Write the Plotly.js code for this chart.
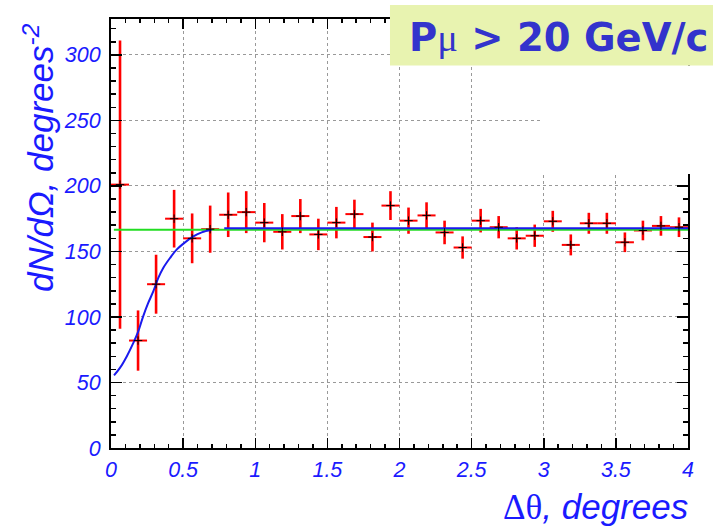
<!DOCTYPE html>
<html>
<head>
<meta charset="utf-8">
<script src="https://cdn.plot.ly/plotly-3.0.1.min.js"></script>
<style>html,body{margin:0;padding:0;background:#fff;}#chart{width:713px;height:528px;}</style>
</head>
<body>
<div id="chart"></div>
<script>
// Bin centres (degrees) and measured dN/dOmega with errors
const binCenters = [0.0625,0.1875,0.3125,0.4375,0.5625,0.6875,0.8125,0.9375,1.0625,1.1875,1.3125,1.4375,1.5625,1.6875,1.8125,1.9375,2.0625,2.1875,2.3125,2.4375,2.5625,2.6875,2.8125,2.9375,3.0625,3.1875,3.3125,3.4375,3.5625,3.6875,3.8125,3.9375];
const dNdOmega = [201,82,125,175,160,167,178,180,172,165,177,163,172,178.5,161,185,173.5,177.5,164.5,153,173.5,168.5,160,162,173,155,171.5,171.5,157,166,169.5,168.5];
const dNdOmegaErr = [110,23,22.5,22,19,18,17,16,15,13.5,13,12,12,11,11,11,10,10,9,8.5,9,8.5,8.5,8.5,8,8,8,8,7.5,7.5,7.5,7.5];
const binHalfWidth = 0.0625;

// Fitted resolution curve (blue)
const fitX = [0.021,0.062,0.109,0.155,0.189,0.223,0.258,0.293,0.328,0.362,0.409,0.455,0.513,0.571,0.629,0.697];
const fitY = [55.4,61.1,69.9,80.2,89.0,100.5,110.7,119.5,129.8,137.4,145.0,151.4,156.9,161.5,164.6,166.6];
const plateauX = [0.785,4.0];
const plateauY = [167.7,167.7];
// Flat fit (green)
const flatX = [0.02,4.0];
const flatY = [166.5,166.5];

const blue = '#1a1aff';
const traces = [
  {x: binCenters, y: dNdOmega, type:'scatter', mode:'markers',
   marker:{size:1, color:'rgba(0,0,0,0)'},
   error_y:{type:'data', array:dNdOmegaErr, visible:true, color:'#ff0000', thickness:2.6, width:0},
   error_x:{type:'constant', value:binHalfWidth, visible:true, color:'#ff0000', thickness:2, width:0},
   hoverinfo:'skip', showlegend:false},
  {x: flatX, y: flatY, type:'scatter', mode:'lines', line:{color:'#22dd22', width:2}, showlegend:false},
  {x: fitX, y: fitY, type:'scatter', mode:'lines', line:{color:'#1a1aee', width:2, shape:'spline'}, showlegend:false},
  {x: plateauX, y: plateauY, type:'scatter', mode:'lines', line:{color:'#1a1aee', width:2}, showlegend:false},
  {x: binCenters, y: dNdOmega, type:'scatter', mode:'markers',
   marker:{symbol:'cross-thin', size:6, line:{color:'#000', width:1}}, showlegend:false}
];

const helv = 'Liberation Sans, Arial, Helvetica, sans-serif';
const tickFont = {family:helv, size:21.5, color:blue, style:'italic'};
const axisCommon = {
  showline:true, linecolor:'#000', linewidth:2, mirror:'allticks',
  ticks:'inside', tickcolor:'#000', tickwidth:1.5,
  showgrid:true, gridcolor:'#999', griddash:'dot', gridwidth:1,
  zeroline:false, tickfont:tickFont
};

const layout = {
  width:713, height:528,
  margin:{l:111, r:25, t:19, b:80, pad:0},
  paper_bgcolor:'#fff', plot_bgcolor:'#fff',
  showlegend:false,
  xaxis: Object.assign({}, axisCommon, {
    range:[0,4], dtick:0.5, tick0:0, ticklen:10,
    minor:{ticks:'inside', dtick:0.1, ticklen:4, tickcolor:'#000', tickwidth:1.5, showgrid:false},
    ticklabelstandoff:1
  }),
  yaxis: Object.assign({}, axisCommon, {
    range:[0,327.4], dtick:50, tick0:0, ticklen:11,
    minor:{ticks:'inside', dtick:10, ticklen:5, tickcolor:'#000', tickwidth:1.5, showgrid:false},
    ticklabelstandoff:4
  }),
  shapes:[
    {type:'rect', xref:'paper', yref:'paper', x0:0.745, x1:1.05, y0:0.6387, y1:0.8916, fillcolor:'#fff', line:{width:0}, layer:'above'},
    {type:'rect', xref:'paper', yref:'paper', x0:0.4835, x1:1.05, y0:0.8916, y1:1.0326, fillcolor:'#e8f3b0', line:{width:0}, layer:'above'}
  ],
  annotations:[
    {xref:'paper', yref:'paper', x:0.7747, y:0.958, xanchor:'center', yanchor:'middle', showarrow:false,
     text:'P<span style="font-family:Liberation Serif;font-weight:normal">μ</span> &gt; 20 GeV/c',
     font:{family:'DejaVu Sans, Verdana, sans-serif', size:38.5, color:'#3333cc', weight:'bold'}},
    {xref:'paper', yref:'paper', x:1.0035, y:-0.1375, xanchor:'right', yanchor:'middle', showarrow:false,
     text:'<span style="font-family:Liberation Serif;font-style:normal">Δθ</span>, degrees',
     font:{family:helv, size:35, color:blue, style:'italic'}},
    {xref:'paper', yref:'paper', x:-0.125, y:0.678, xanchor:'center', yanchor:'middle', showarrow:false, textangle:-90,
     text:'dN/dΩ, degrees<sup>-2</sup>',
     font:{family:helv, size:35, color:blue, style:'italic'}}
  ]
};

Plotly.newPlot('chart', traces, layout, {displayModeBar:false, staticPlot:true});
</script>
</body>
</html>
